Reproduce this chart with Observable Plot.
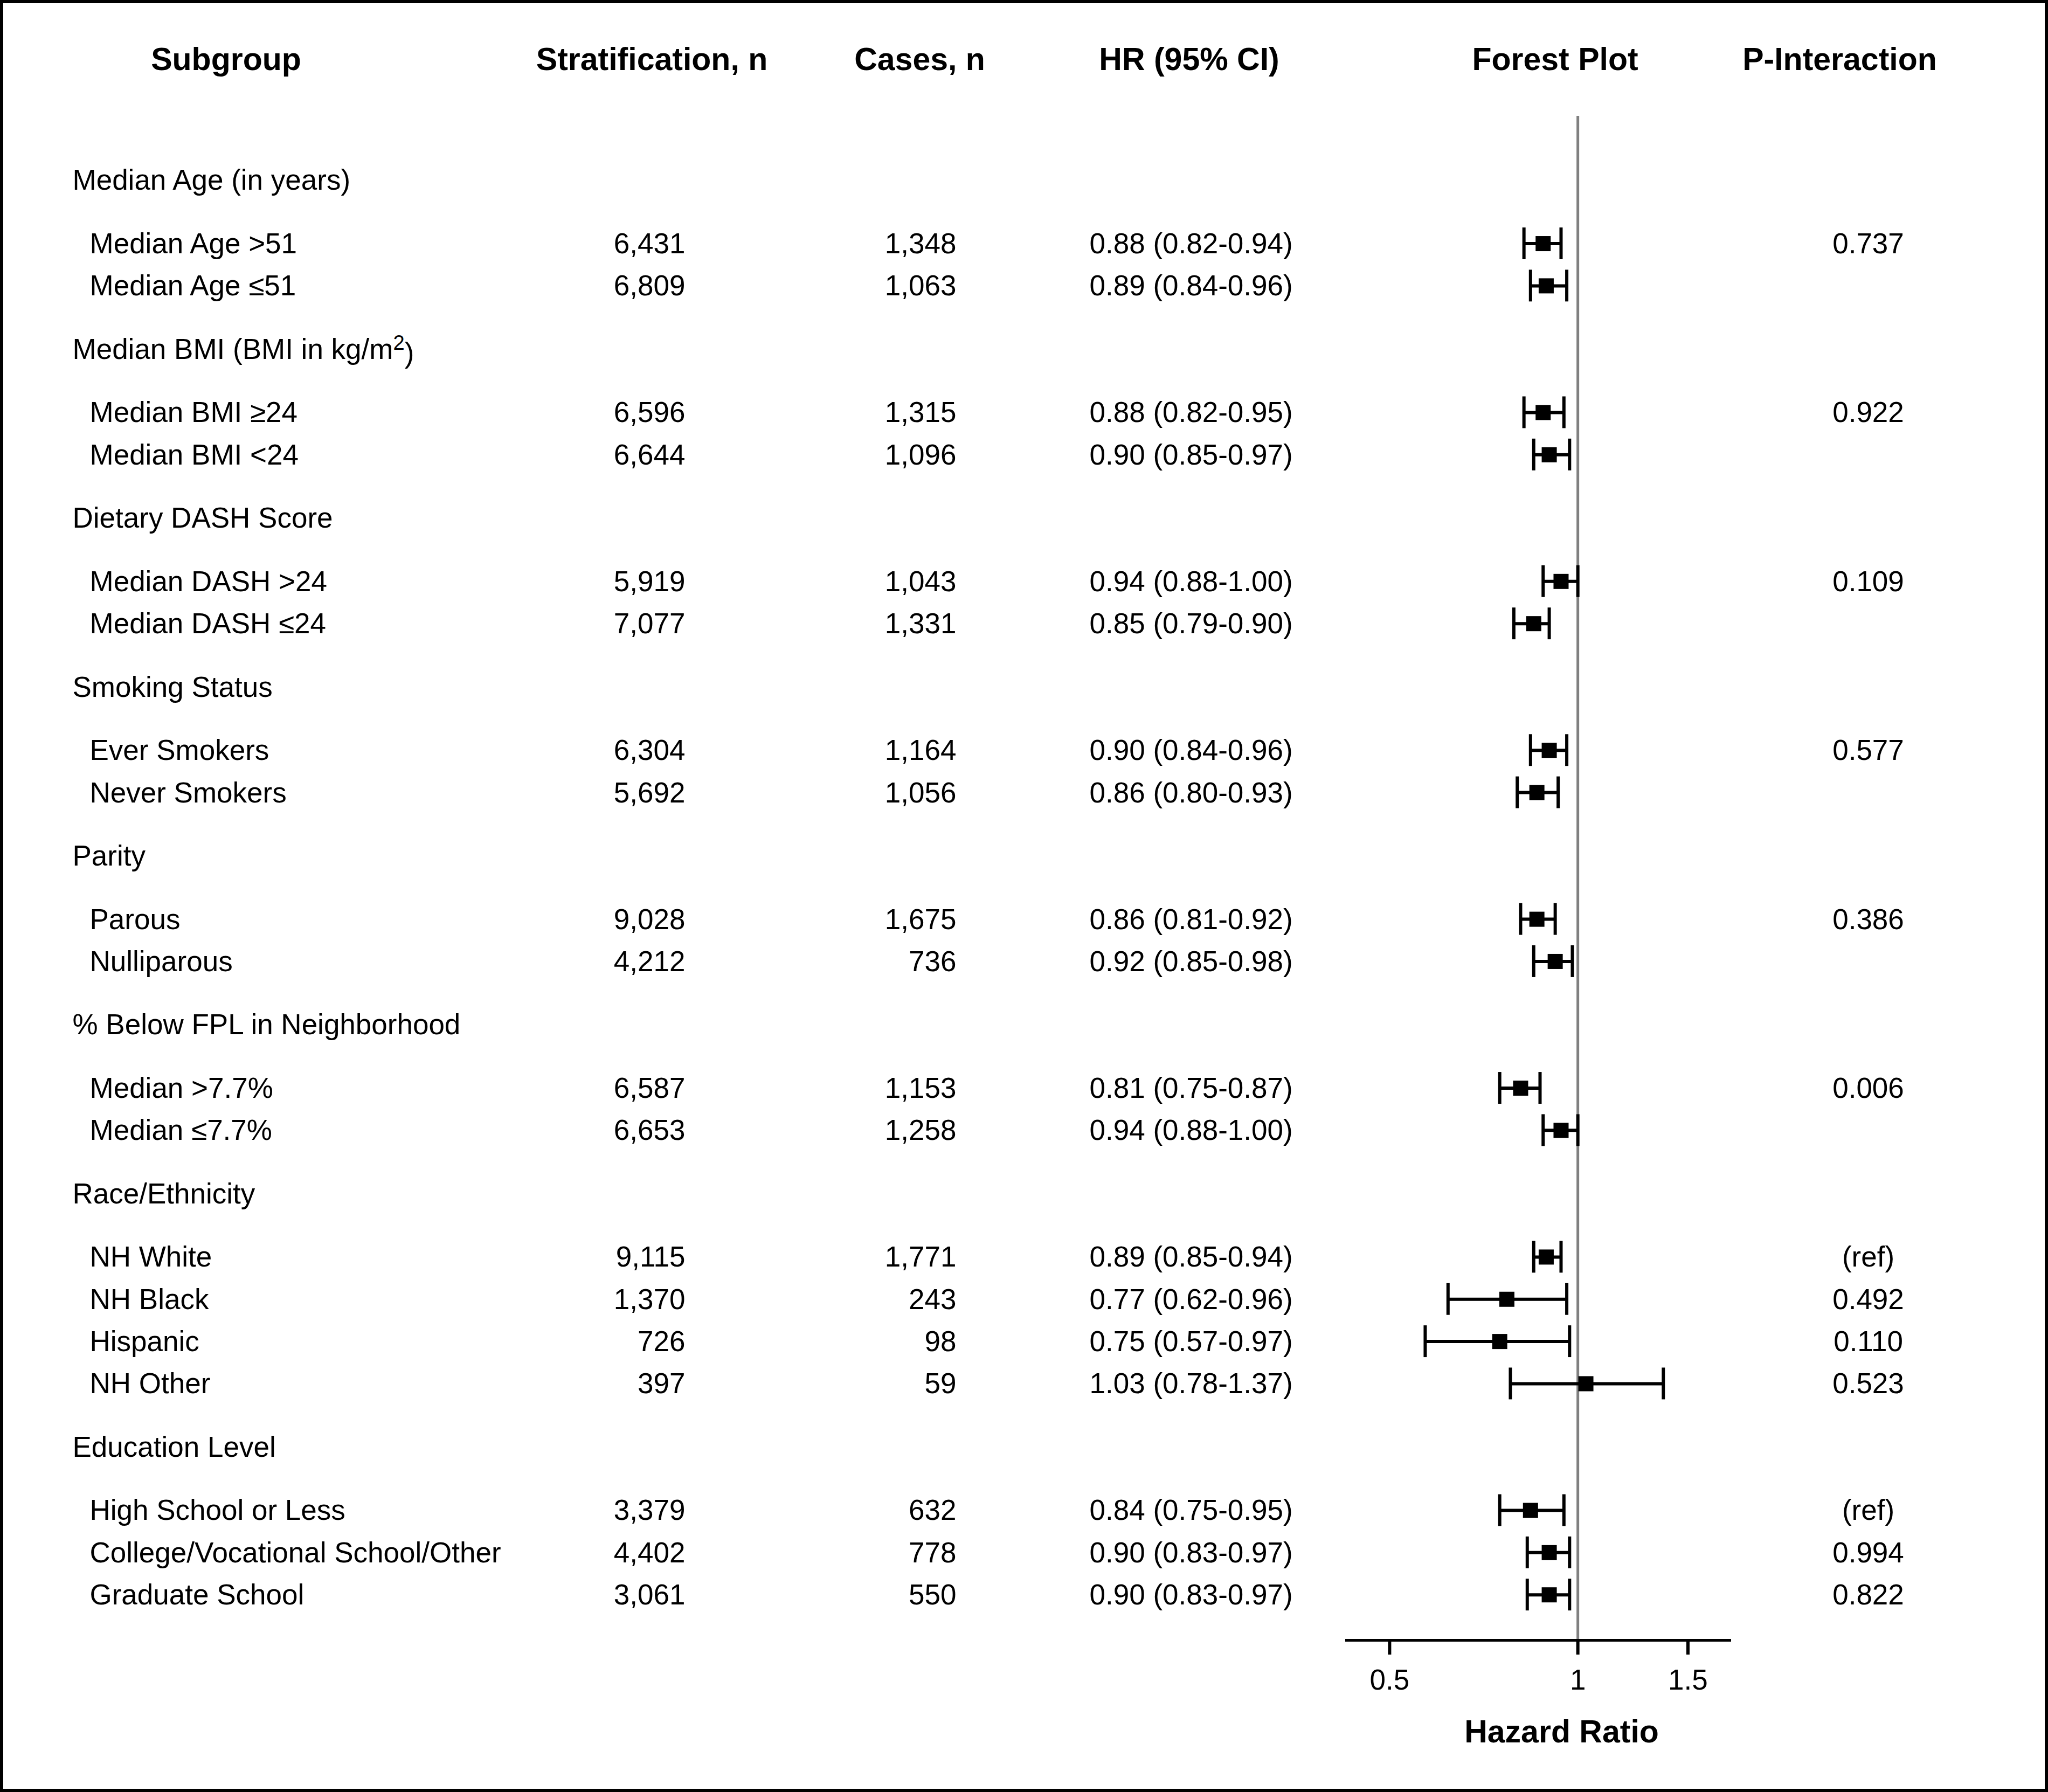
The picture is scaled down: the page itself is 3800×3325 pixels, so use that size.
<!DOCTYPE html>
<html>
<head>
<meta charset="utf-8">
<script src="https://cdn.jsdelivr.net/npm/d3@7"></script>
<script src="https://cdn.jsdelivr.net/npm/@observablehq/plot@0.6"></script>
<style>
  html, body { margin: 0; padding: 0; background: #fff; overflow: hidden; }
  #wrap { position: relative; width: 3800px; height: 3325px; }
  #border { position: absolute; left: 0; top: 0; width: 3800px; height: 3325px; box-sizing: border-box; border: 6px solid #000; pointer-events: none; }
  svg { display: block; }
</style>
</head>
<body>
<div id="wrap"><div id="chart"></div><div id="border"></div></div>
<script>
// ---------- data ----------
const columnHeaders = ["Subgroup", "Stratification, n", "Cases, n", "HR (95% CI)", "Forest Plot", "P-Interaction"];
const groups = [
  "Median Age (in years)",
  "Median BMI (BMI in kg/m²)",
  "Dietary DASH Score",
  "Smoking Status",
  "Parity",
  "% Below FPL in Neighborhood",
  "Race/Ethnicity",
  "Education Level"
];
const subgroups = [
  "Median Age >51", "Median Age ≤51",
  "Median BMI ≥24", "Median BMI <24",
  "Median DASH >24", "Median DASH ≤24",
  "Ever Smokers", "Never Smokers",
  "Parous", "Nulliparous",
  "Median >7.7%", "Median ≤7.7%",
  "NH White", "NH Black", "Hispanic", "NH Other",
  "High School or Less", "College/Vocational School/Other", "Graduate School"
];
const groupOf = [0,0,1,1,2,2,3,3,4,4,5,5,6,6,6,6,7,7,7];
const stratN = [6431,6809,6596,6644,5919,7077,6304,5692,9028,4212,6587,6653,9115,1370,726,397,3379,4402,3061];
const casesN = [1348,1063,1315,1096,1043,1331,1164,1056,1675,736,1153,1258,1771,243,98,59,632,778,550];
const hr   = [0.88,0.89,0.88,0.90,0.94,0.85,0.90,0.86,0.86,0.92,0.81,0.94,0.89,0.77,0.75,1.03,0.84,0.90,0.90];
const lo   = [0.82,0.84,0.82,0.85,0.88,0.79,0.84,0.80,0.81,0.85,0.75,0.88,0.85,0.62,0.57,0.78,0.75,0.83,0.83];
const hi   = [0.94,0.96,0.95,0.97,1.00,0.90,0.96,0.93,0.92,0.98,0.87,1.00,0.94,0.96,0.97,1.37,0.95,0.97,0.97];
const pInteraction = ["0.737","","0.922","","0.109","","0.577","","0.386","","0.006","","(ref)","0.492","0.110","0.523","(ref)","0.994","0.822"];
const xTicks = [0.5, 1, 1.5];
const axisLabel = "Hazard Ratio";

// ---------- build rows (row positions in row units) ----------
const headerRows = [], items = [];
let p = 0;
groups.forEach((g, gi) => {
  headerRows.push({label: g, pos: p});
  p += 1.5;
  subgroups.forEach((s, i) => {
    if (groupOf[i] !== gi) return;
    items.push({label: s, strat: stratN[i], cases: casesN[i], hr: hr[i], lo: lo[i], hi: hi[i], p: pInteraction[i], pos: p});
    p += 1;
  });
  p += 0.5;
});
const minPos = d3.min(headerRows, d => d.pos);
const maxPos = d3.max(items, d => d.pos);

// ---------- layout ----------
const W = 3800, H = 3325;
const M = {left: 2496, right: 588, top: 215, bottom: 282};
const colX = {group: 134, item: 166, strat: 1271, cases: 1774, hrText: 2021, p: 3466};
const headerX = [419, 1209, 1706, 2206, 2885, 3413];
const dxOf = x => x - M.left;
const FONT = 53, HFONT = 59;
const fmt = d3.format(",");
const capHalf = 0.376;

const bodyText = (data, opts) => Plot.text(data, {y: "pos", frameAnchor: "left", fontSize: FONT, dy: 1, fill: "#000", ...opts});

const marks = [
  // column headers
  ...columnHeaders.map((h, i) => Plot.text([h], {
    text: d => d, frameAnchor: "top-left", lineAnchor: "middle",
    dx: dxOf(headerX[i]), dy: -104, textAnchor: "middle",
    fontWeight: "bold", fontSize: HFONT, fill: "#000"
  })),
  // group headers
  bodyText(headerRows, {text: "label", dx: dxOf(colX.group), textAnchor: "start"}),
  // subgroup labels
  bodyText(items, {text: "label", dx: dxOf(colX.item), textAnchor: "start"}),
  bodyText(items, {text: d => fmt(d.strat), dx: dxOf(colX.strat), textAnchor: "end"}),
  bodyText(items, {text: d => fmt(d.cases), dx: dxOf(colX.cases), textAnchor: "end"}),
  bodyText(items, {text: d => `${d.hr.toFixed(2)} (${d.lo.toFixed(2)}-${d.hi.toFixed(2)})`, dx: dxOf(colX.hrText), textAnchor: "start"}),
  bodyText(items, {text: "p", dx: dxOf(colX.p), textAnchor: "middle"}),
  // reference line at HR = 1
  Plot.ruleX([1], {stroke: "#808080", strokeWidth: 5}),
  // CI whiskers and caps
  Plot.ruleY(items, {y: "pos", x1: "lo", x2: "hi", stroke: "#000", strokeWidth: 6}),
  Plot.ruleX(items, {x: "lo", y1: d => d.pos - capHalf, y2: d => d.pos + capHalf, stroke: "#000", strokeWidth: 6}),
  Plot.ruleX(items, {x: "hi", y1: d => d.pos - capHalf, y2: d => d.pos + capHalf, stroke: "#000", strokeWidth: 6}),
  // point estimates
  Plot.dot(items, {x: "hr", y: "pos", symbol: "square", r: 15.8, fill: "#000", stroke: "none"}),
  // x axis
  Plot.ruleY([maxPos + 1.076], {stroke: "#000", strokeWidth: 5}),
  Plot.axisX({ticks: xTicks, tickFormat: d => String(d), tickSize: 27, tickPadding: 27, strokeWidth: 6, fontSize: FONT, label: null, fill: "#000", stroke: "#000"}),
  Plot.text([axisLabel], {text: d => d, frameAnchor: "bottom", lineAnchor: "middle", dx: 43, dy: 171, textAnchor: "middle", fontWeight: "bold", fontSize: HFONT, fill: "#000"})
];

const chart = Plot.plot({
  width: W, height: H,
  marginLeft: M.left, marginRight: M.right, marginTop: M.top, marginBottom: M.bottom,
  x: {type: "log", domain: [0.425, 1.76], axis: null},
  y: {domain: [minPos - 1.519, maxPos + 1.076], reverse: true, axis: null},
  style: {fontFamily: "'Liberation Sans', Arial, sans-serif", background: "#fff", color: "#000", overflow: "visible"},
  marks
});

// render the "²" as a true raised superscript, keeping the text as text
d3.select(chart).selectAll("text").each(function () {
  const el = d3.select(this);
  const t = el.text();
  if (t.includes("²") && this.childElementCount === 0) {
    const [before, after] = t.split("²");
    el.text(null);
    el.append("tspan").text(before);
    el.append("tspan").attr("dy", "-0.45em").attr("font-size", "0.72em").text("2");
    el.append("tspan").attr("dy", "0.45em").text(after);
  }
});
document.getElementById("chart").appendChild(chart);
</script>
</body>
</html>
